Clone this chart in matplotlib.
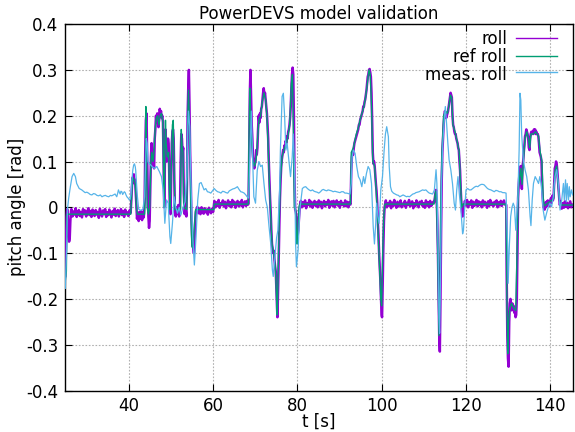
import numpy as np
import matplotlib
matplotlib.use("Agg")
import matplotlib.pyplot as plt
from matplotlib.lines import Line2D

plt.rcParams["path.simplify"] = False

# ---------------- data ----------------
x_ticks = [40, 60, 80, 100, 120, 140]
x_tick_labels = ["40", "60", "80", "100", "120", "140"]
y_ticks = [-0.4, -0.3, -0.2, -0.1, 0.0, 0.1, 0.2, 0.3, 0.4]
y_tick_labels = ["-0.4", "-0.3", "-0.2", "-0.1", "0", "0.1", "0.2", "0.3", "0.4"]
series_names = ["roll", "ref roll", "meas. roll"]

# roll (purple): transient segments with explicit times, noisy flat parts sampled every 0.25 s
roll_start_t = [25.0, 25.1, 25.2, 25.3, 25.45, 25.6, 25.75, 25.9, 26.05, 26.2, 26.35]
roll_start_v = [-0.15, -0.12, -0.06, -0.02, -0.004, -0.018, -0.06, -0.075, -0.068, -0.03, -0.008]

roll_flat_A_t0 = 26.45
roll_flat_A = [-0.004, -0.020, -0.009, -0.016, -0.002, -0.021, -0.011, -0.006, -0.019, -0.010,
               -0.022, -0.004, -0.015, -0.007, -0.020, -0.012, -0.002, -0.017, -0.008, -0.021,
               -0.005, -0.014, -0.019, -0.006, -0.016, -0.010, -0.023, -0.003, -0.012, -0.020,
               -0.007, -0.015, -0.004, -0.021, -0.011, -0.017, -0.005, -0.014, -0.022, -0.008,
               -0.016, -0.003, -0.019, -0.010, -0.006, -0.020, -0.012, -0.004, -0.017, -0.008,
               -0.021, -0.005, -0.015, -0.011, -0.019, -0.007, -0.013]

roll_ev1_t = [40.5, 40.65, 40.8, 40.95, 41.1, 41.25, 41.4, 41.55, 41.7, 41.85, 42.0, 42.2, 42.4,
              42.6, 42.8, 43.0, 43.2, 43.4, 43.6, 43.8, 43.95, 44.1, 44.25, 44.4, 44.55, 44.7,
              44.85, 45.0, 45.15, 45.3, 45.45, 45.6, 45.75, 45.9, 46.05, 46.2, 46.35, 46.5, 46.65,
              46.8, 46.95, 47.1, 47.25, 47.4, 47.55, 47.7, 47.85, 48.0, 48.15, 48.3, 48.45, 48.6,
              48.75, 48.9, 49.05, 49.2, 49.35, 49.5, 49.65, 49.8, 49.95, 50.1, 50.25, 50.4, 50.55,
              50.7, 50.85, 51.0, 51.2, 51.4, 51.6, 51.8, 52.0, 52.2, 52.35, 52.5, 52.65, 52.8,
              52.95, 53.1, 53.3, 53.5, 53.7, 53.85, 54.0, 54.15, 54.3, 54.45, 54.6, 54.75, 54.9,
              55.05, 55.2, 55.35, 55.5, 55.65, 55.8, 55.95, 56.1]
roll_ev1_v = [-0.010, 0.015, 0.045, 0.065, 0.058, 0.072, 0.052, 0.06, 0.03, 0.005, -0.025, -0.012,
              -0.03, -0.01, -0.025, -0.008, -0.028, -0.012, -0.022, 0.01, 0.12, 0.19, 0.205, 0.12,
              0.03, -0.02, -0.045, -0.03, 0.04, 0.11, 0.14, 0.12, 0.09, 0.1, 0.085, 0.15, 0.17,
              0.2, 0.185, 0.205, 0.19, 0.175, 0.2, 0.215, 0.205, 0.21, 0.195, 0.2, 0.185, 0.1,
              0.0, 0.09, 0.17, 0.14, 0.1, 0.13, 0.15, 0.14, 0.07, -0.01, -0.015, 0.06, 0.14,
              0.165, 0.17, 0.15, 0.06, -0.01, -0.02, 0.0, -0.015, 0.005, -0.02, 0.0, 0.1, 0.16,
              0.15, 0.12, 0.13, 0.03, -0.015, 0.0, -0.02, 0.05, 0.2, 0.26, 0.3, 0.22, 0.12, 0.06,
              -0.02, -0.06, -0.085, -0.09, -0.1, -0.07, -0.03, -0.01, -0.004]

roll_flat_B1_t0 = 56.3
roll_flat_B1 = [0.001, -0.013, -0.003, -0.015, 0.000, -0.010, -0.014, -0.002, -0.011, -0.005,
                -0.016, -0.001, -0.008, -0.013, -0.003, -0.010]
roll_flat_B2_t0 = 60.35
roll_flat_B2 = [0.014, 0.000, 0.011, 0.003, 0.016, -0.001, 0.009, 0.005, 0.015, 0.002, 0.012,
                -0.002, 0.008, 0.015, 0.003, 0.011, 0.000, 0.016, 0.005, 0.012, -0.001, 0.009,
                0.014, 0.002, 0.011, 0.004, 0.016, 0.000, 0.008, 0.013, 0.003, 0.014, 0.006]

roll_ev2_t = [68.45, 68.6, 68.75, 68.9, 69.05, 69.2, 69.35, 69.5, 69.65, 69.8, 69.95, 70.1, 70.25,
              70.4, 70.55, 70.7, 70.85, 71.0, 71.15, 71.3, 71.45, 71.6, 71.75, 71.9, 72.05, 72.2,
              72.35, 72.5, 72.65, 72.8, 72.95, 73.1, 73.25, 73.4, 73.55, 73.7, 73.85, 74.0, 74.15,
              74.3, 74.45, 74.6, 74.75, 74.9, 75.05, 75.2, 75.3, 75.45, 75.6, 75.75, 75.9, 76.05,
              76.2, 76.35, 76.5, 76.65, 76.8, 76.95, 77.1, 77.25, 77.4, 77.55, 77.7, 77.85, 78.0,
              78.15, 78.3, 78.45, 78.6, 78.75, 78.9, 79.05, 79.2, 79.35, 79.5, 79.65, 79.8, 79.95,
              80.1, 80.25, 80.4, 80.55, 80.7]
roll_ev2_v = [0.01, 0.12, 0.25, 0.3, 0.24, 0.18, 0.15, 0.11, 0.1, 0.085, 0.095, 0.1, 0.125, 0.115,
              0.13, 0.17, 0.2, 0.185, 0.205, 0.195, 0.215, 0.22, 0.235, 0.25, 0.26, 0.245, 0.25,
              0.235, 0.22, 0.205, 0.18, 0.15, 0.1, 0.06, 0.02, -0.01, -0.05, -0.08, -0.09, -0.1,
              -0.095, -0.115, -0.13, -0.14, -0.18, -0.22, -0.24, -0.18, -0.11, -0.04, 0.02, 0.06,
              0.09, 0.105, 0.115, 0.125, 0.12, 0.135, 0.13, 0.145, 0.14, 0.155, 0.15, 0.165, 0.17,
              0.18, 0.195, 0.22, 0.26, 0.29, 0.305, 0.29, 0.2, 0.06, -0.005, -0.01, -0.02, -0.045,
              -0.06, -0.05, -0.025, -0.005, 0.008]

roll_flat_C_t0 = 80.85
roll_flat_C = [0.014, 0.000, 0.011, 0.003, 0.015, -0.002, 0.009, 0.005, 0.016, 0.002, 0.012, -0.001,
               0.008, 0.014, 0.003, 0.011, 0.000, 0.015, 0.004, 0.012, -0.002, 0.009, 0.014, 0.002,
               0.011, 0.006, 0.016, -0.001, 0.008, 0.013, 0.003, 0.014, 0.000, 0.009, 0.015, 0.004,
               0.011, -0.001, 0.014, 0.006, 0.009, 0.002, 0.015, 0.003, 0.012, 0.000, 0.011, 0.006]

roll_ev3_t = [92.65, 92.8, 92.95, 93.1, 93.25, 93.4, 93.55, 93.7, 93.85, 94.0, 94.15, 94.3, 94.45,
              94.6, 94.75, 94.9, 95.05, 95.2, 95.35, 95.5, 95.65, 95.8, 95.95, 96.1, 96.25, 96.4,
              96.55, 96.7, 96.85, 97.0, 97.15, 97.3, 97.45, 97.6, 97.75, 97.9, 98.05, 98.2, 98.35,
              98.5, 98.65, 98.8, 98.95, 99.1, 99.25, 99.4, 99.55, 99.7, 99.85, 100.0, 100.1,
              100.25, 100.4, 100.55, 100.7, 100.85]
roll_ev3_v = [0.01, 0.08, 0.11, 0.12, 0.115, 0.13, 0.14, 0.145, 0.15, 0.155, 0.16, 0.165, 0.17,
              0.18, 0.18, 0.19, 0.195, 0.2, 0.205, 0.21, 0.22, 0.22, 0.23, 0.235, 0.245, 0.255,
              0.27, 0.285, 0.29, 0.3, 0.302, 0.295, 0.285, 0.25, 0.19, 0.12, 0.095, 0.1, 0.09,
              0.07, 0.05, 0.035, 0.01, -0.03, -0.06, -0.1, -0.13, -0.16, -0.2, -0.235, -0.24,
              -0.17, -0.09, -0.03, 0.0, 0.008]

roll_flat_D_t0 = 101.0
roll_flat_D = [0.015, 0.000, 0.009, 0.004, 0.014, -0.002, 0.010, 0.003, 0.016, 0.006, -0.001, 0.012,
               0.002, 0.009, 0.015, 0.000, 0.008, 0.004, 0.014, -0.001, 0.010, 0.005, 0.016, 0.002,
               0.008, 0.013, -0.002, 0.009, 0.003, 0.015, 0.006, 0.000, 0.012, 0.007, 0.014, 0.002,
               0.009, -0.001, 0.015, 0.004, 0.011, 0.000, 0.014, 0.003, 0.008, 0.012]

roll_ev4_t = [112.45, 112.6, 112.75, 112.9, 113.05, 113.2, 113.35, 113.5, 113.65, 113.8, 113.95,
              114.1, 114.25, 114.4, 114.55, 114.7, 114.85, 115.0, 115.15, 115.3, 115.45, 115.6,
              115.75, 115.9, 116.05, 116.2, 116.35, 116.5, 116.65, 116.8, 116.95, 117.1, 117.25,
              117.4, 117.55, 117.7, 117.85, 118.0, 118.15, 118.3, 118.45, 118.6, 118.75, 118.9,
              119.05, 119.2, 119.35]
roll_ev4_v = [0.01, 0.02, 0.03, 0.038, 0.02, -0.03, -0.1, -0.19, -0.28, -0.315, -0.2, -0.05, 0.06,
              0.12, 0.15, 0.18, 0.2, 0.21, 0.205, 0.195, 0.2, 0.205, 0.21, 0.22, 0.23, 0.24, 0.25,
              0.245, 0.24, 0.2, 0.18, 0.175, 0.165, 0.16, 0.16, 0.15, 0.145, 0.14, 0.13, 0.125,
              0.1, 0.08, 0.04, 0.01, -0.01, -0.02, 0.005]

roll_flat_E_t0 = 119.5
roll_flat_E = [0.002, 0.014, 0.004, 0.016, 0.000, 0.011, 0.006, 0.015, -0.001, 0.012, 0.003, 0.009,
               0.016, 0.002, 0.013, 0.005, 0.011, 0.000, 0.015, 0.004, 0.012, 0.008, -0.001, 0.013,
               0.003, 0.016, 0.005, 0.010, 0.002, 0.012, 0.006, 0.015, 0.000, 0.011, 0.004, 0.014,
               0.003, 0.009, 0.015, 0.006]

roll_ev5_t = [129.55, 129.65, 129.8, 129.95, 130.1, 130.25, 130.4, 130.55, 130.7, 130.85, 131.0,
              131.15, 131.3, 131.45, 131.6, 131.75, 131.9, 132.05, 132.2, 132.35, 132.5, 132.65,
              132.8, 132.95, 133.1, 133.25, 133.4, 133.55, 133.7, 133.85, 134.0, 134.15, 134.3,
              134.45, 134.6, 134.75, 134.9, 135.05, 135.2, 135.35, 135.5, 135.65, 135.8, 135.95,
              136.1, 136.25, 136.4, 136.55, 136.7, 136.85, 137.0, 137.15, 137.3, 137.45, 137.6,
              137.75, 137.9, 138.05, 138.2, 138.35, 138.5, 138.65, 138.8, 138.95, 139.1, 139.25,
              139.4, 139.55, 139.7, 139.85, 140.0, 140.15, 140.3, 140.45, 140.6, 140.75, 140.9,
              141.05, 141.2, 141.35, 141.5, 141.65, 141.8, 141.95, 142.1, 142.25]
roll_ev5_v = [0.005, -0.15, -0.28, -0.33, -0.348, -0.25, -0.21, -0.2, -0.215, -0.225, -0.21, -0.22,
              -0.215, -0.23, -0.225, -0.24, -0.235, -0.2, -0.1, 0.02, 0.05, 0.07, 0.085, 0.09, 0.06,
              0.04, 0.09, 0.1, 0.12, 0.135, 0.155, 0.16, 0.17, 0.165, 0.16, 0.15, 0.13, 0.125,
              0.15, 0.16, 0.165, 0.16, 0.165, 0.16, 0.17, 0.165, 0.17, 0.16, 0.165, 0.16, 0.16,
              0.155, 0.14, 0.12, 0.115, 0.11, 0.1, 0.05, 0.02, 0.0, 0.005, -0.005, 0.01, 0.0,
              0.012, 0.003, 0.015, 0.005, 0.012, 0.003, 0.015, 0.02, 0.01, 0.025, 0.015, 0.02,
              0.05, 0.085, 0.09, 0.1, 0.095, 0.08, 0.06, 0.04, 0.02, 0.005]

roll_flat_F_t0 = 142.45
roll_flat_F = [0.012, -0.003, 0.009, -0.001, 0.013, 0.001, 0.010, -0.002, 0.007, 0.013, 0.000, 0.006]

roll_sample_step = 0.25

# ref roll (green)
ref_t = [25.0, 25.25, 25.4, 40.5, 40.8, 41.0, 41.3, 41.6, 41.9, 42.1, 43.8, 44.0, 44.1, 44.25,
         44.4, 44.7, 45.0, 45.3, 45.5, 45.8, 46.0, 46.3, 46.6, 46.9, 47.2, 47.5, 47.8, 48.1, 48.3,
         48.45, 48.6, 48.75, 48.9, 49.2, 49.5, 49.7, 49.85, 50.1, 50.4, 50.6, 50.8, 51.0, 52.3,
         52.5, 52.7, 52.9, 53.1, 53.8, 54.0, 54.2, 54.4, 54.6, 54.8, 55.0, 55.3, 55.6, 55.9, 60.2,
         60.3, 68.4, 68.55, 68.75, 68.95, 69.2, 69.5, 69.9, 70.3, 70.6, 70.9, 71.3, 71.7, 72.1,
         72.5, 72.8, 73.1, 73.4, 73.7, 74.0, 74.4, 74.8, 75.1, 75.25, 75.45, 75.7, 76.0, 76.4,
         76.8, 77.6, 78.2, 78.6, 78.85, 79.1, 79.3, 79.6, 79.9, 80.1, 80.4, 80.6, 92.6, 92.8,
         93.3, 94.0, 94.5, 95.0, 95.5, 95.8, 96.2, 96.6, 97.0, 97.3, 97.6, 97.9, 98.3, 98.7,
         99.1, 99.5, 99.8, 100.0, 100.2, 100.5, 100.8, 112.4, 112.8, 113.0, 113.3, 113.6, 113.8,
         114.0, 114.3, 114.7, 115.1, 115.6, 116.0, 116.3, 116.6, 116.9, 117.4, 118.0, 118.4,
         118.7, 119.0, 119.3, 129.5, 129.7, 129.9, 130.1, 130.4, 130.8, 131.3, 131.8, 132.1,
         132.4, 133.0, 133.3, 133.6, 134.0, 134.4, 134.8, 135.1, 135.4, 136.0, 136.5, 137.2,
         137.6, 138.0, 138.3, 138.6, 139.5, 140.3, 140.8, 141.1, 141.5, 141.9, 142.3, 145.3]
ref_v = [-0.16, -0.14, -0.015, -0.015, 0.04, 0.065, 0.06, 0.05, -0.005, -0.015, -0.015, 0.1,
         0.22, 0.12, 0.0, -0.015, 0.0, 0.1, 0.12, 0.1, 0.12, 0.17, 0.195, 0.2, 0.18, 0.2, 0.205,
         0.19, 0.08, 0.0, 0.12, 0.19, 0.14, 0.11, 0.12, 0.03, -0.005, 0.08, 0.18, 0.19, 0.08,
         -0.005, -0.005, 0.17, 0.13, 0.12, 0.0, -0.005, 0.18, 0.256, 0.2, 0.1, -0.02, -0.085,
         -0.09, -0.04, -0.005, -0.005, 0.007, 0.007, 0.15, 0.26, 0.2, 0.14, 0.1, 0.09, 0.11, 0.15,
         0.19, 0.2, 0.23, 0.25, 0.235, 0.2, 0.13, 0.05, -0.02, -0.08, -0.1, -0.13, -0.2, -0.235,
         -0.15, -0.04, 0.06, 0.11, 0.125, 0.145, 0.18, 0.27, 0.29, 0.15, 0.0, -0.005, -0.08,
         -0.06, 0.0, 0.007, 0.007, 0.12, 0.13, 0.16, 0.175, 0.195, 0.21, 0.22, 0.24, 0.27, 0.3,
         0.29, 0.22, 0.1, 0.09, 0.04, -0.04, -0.13, -0.2, -0.215, -0.12, -0.02, 0.007, 0.007,
         0.035, 0.02, -0.1, -0.28, -0.2, 0.0, 0.12, 0.2, 0.21, 0.205, 0.225, 0.245, 0.24, 0.18,
         0.165, 0.14, 0.12, 0.05, 0.0, 0.007, 0.007, -0.2, -0.32, -0.25, -0.22, -0.21, -0.22,
         -0.225, -0.1, 0.04, 0.085, 0.05, 0.1, 0.15, 0.165, 0.15, 0.13, 0.16, 0.16, 0.165, 0.155,
         0.12, 0.1, 0.02, 0.003, 0.01, 0.015, 0.02, 0.08, 0.09, 0.04, 0.005, 0.005]

# meas. roll (light blue)
meas_t = [25.0, 25.3, 25.5, 25.8, 26.2, 26.6, 27.0, 27.4, 27.7, 28.3, 28.9, 29.3, 29.7, 30.1,
          30.5, 30.9, 31.3, 31.7, 32.1, 32.5, 32.9, 33.3, 33.7, 34.1, 34.5, 34.9, 35.3, 35.7,
          36.0, 36.4, 36.8, 37.0, 37.2, 37.4, 37.6, 37.8, 38.0, 38.2, 38.4, 38.6, 38.8, 39.0,
          39.2, 39.4, 39.6, 39.9, 40.2, 40.4, 40.6, 40.8, 41.0, 41.2, 41.4, 41.6, 41.7, 41.9,
          42.1, 42.4, 42.9, 43.4, 43.8, 44.0, 44.2, 44.4, 44.6, 44.9, 45.3, 45.7, 46.1, 46.7,
          47.3, 47.8, 48.2, 48.6, 49.0, 49.4, 49.8, 50.0, 50.4, 50.8, 51.2, 51.6, 52.0, 52.4,
          52.9, 53.4, 53.8, 54.0, 54.2, 54.5, 54.8, 55.2, 55.6, 56.0, 56.4, 56.8, 57.2, 57.6,
          57.9, 58.3, 58.7, 59.1, 59.5, 59.9, 60.3, 60.7, 61.1, 61.5, 61.9, 62.3, 62.7, 63.1,
          63.5, 63.9, 64.3, 64.7, 65.1, 65.5, 65.8, 66.2, 66.6, 67.0, 67.4, 67.8, 68.1, 68.5,
          68.8, 69.1, 69.4, 69.7, 70.1, 70.5, 70.9, 71.3, 71.7, 72.1, 72.5, 72.9, 73.3, 73.7,
          74.1, 74.3, 74.7, 75.1, 75.4, 75.8, 76.0, 76.4, 76.7, 77.0, 77.3, 77.6, 78.0, 78.4,
          78.8, 79.05, 79.4, 79.6, 79.8, 80.2, 80.6, 81.2, 81.6, 82.0, 82.4, 82.8, 83.2, 83.6,
          84.0, 84.3, 84.7, 85.1, 85.5, 85.9, 86.2, 86.6, 87.0, 87.3, 87.7, 88.1, 88.5, 88.9,
          89.3, 89.7, 90.1, 90.5, 90.9, 91.3, 91.7, 92.1, 92.5, 92.8, 93.0, 93.3, 93.7, 94.1,
          94.5, 94.9, 95.3, 95.7, 96.0, 96.4, 96.8, 97.2, 97.6, 98.0, 98.3, 98.6, 98.8, 99.1,
          99.4, 99.6, 99.8, 100.2, 100.6, 100.9, 101.2, 101.6, 101.8, 102.1, 102.4, 102.8, 103.2,
          103.6, 104.0, 104.3, 104.7, 105.1, 105.5, 105.9, 106.2, 106.6, 107.0, 107.4, 107.8,
          108.1, 108.5, 108.9, 109.3, 109.7, 110.1, 110.5, 110.9, 111.3, 111.7, 112.1, 112.5,
          112.7, 112.9, 113.1, 113.4, 113.6, 113.75, 114.0, 114.2, 114.5, 114.9, 115.1, 115.4,
          115.7, 116.0, 116.4, 116.8, 117.2, 117.5, 117.8, 118.1, 118.4, 118.8, 119.2, 119.4,
          119.7, 120.0, 120.4, 120.8, 121.2, 121.6, 122.0, 122.4, 122.8, 123.2, 123.6, 124.0,
          124.3, 124.7, 125.1, 125.5, 125.9, 126.3, 126.7, 127.1, 127.5, 127.9, 128.3, 128.7,
          129.1, 129.5, 129.6, 129.9, 130.0, 130.3, 130.6, 130.9, 131.2, 131.5, 131.8, 132.0,
          132.3, 132.6, 132.8, 133.0, 133.2, 133.6, 134.0, 134.4, 134.8, 135.2, 135.4, 135.7,
          136.0, 136.4, 136.8, 137.2, 137.5, 137.8, 138.0, 138.3, 138.7, 139.1, 139.5, 139.9,
          140.3, 140.7, 141.1, 141.5, 141.9, 142.3, 142.7, 143.1, 143.3, 143.6, 143.8, 144.0,
          144.3, 144.5, 144.7, 145.0, 145.3]
meas_v = [-0.177, -0.093, -0.006, 0.02, 0.045, 0.067, 0.074, 0.067, 0.052, 0.041, 0.038, 0.035,
          0.032, 0.033, 0.031, 0.028, 0.027, 0.030, 0.029, 0.026, 0.025, 0.027, 0.023, 0.025,
          0.026, 0.024, 0.023, 0.026, 0.025, 0.027, 0.029, 0.026, 0.023, 0.03, 0.038, 0.033,
          0.029, 0.035, 0.034, 0.028, 0.031, 0.034, 0.032, 0.027, 0.023, 0.02, 0.016, 0.018,
          0.03, 0.06, 0.081, 0.092, 0.095, 0.088, 0.08, 0.05, 0.023, -0.004, -0.007, -0.004,
          0.023, 0.08, 0.15, 0.14, 0.1, 0.095, 0.092, 0.088, 0.085, 0.089, 0.078, 0.067, 0.038,
          -0.035, 0.016, 0.009, -0.064, -0.079, -0.035, 0.023, 0.0, -0.013, 0.0, -0.017, 0.0,
          0.012, 0.067, 0.16, 0.21, 0.176, 0.052, -0.064, -0.126, -0.064, 0.016, 0.052, 0.054,
          0.045, 0.038, 0.041, 0.034, 0.033, 0.031, 0.036, 0.041, 0.037, 0.034, 0.033, 0.031,
          0.035, 0.034, 0.032, 0.031, 0.036, 0.038, 0.04, 0.041, 0.043, 0.045, 0.039, 0.034,
          0.033, 0.031, 0.027, 0.023, 0.02, 0.125, 0.21, 0.11, 0.023, 0.009, 0.08, 0.1, 0.089,
          0.092, 0.052, 0.016, 0.0, -0.042, -0.079, -0.137, -0.151, -0.108, -0.066, -0.05, 0.038,
          0.125, 0.242, 0.249, 0.198, 0.125, 0.14, 0.103, 0.067, 0.11, 0.16, 0.067, -0.08, -0.13,
          -0.093, -0.006, 0.041, 0.044, 0.045, 0.041, 0.038, 0.036, 0.038, 0.035, 0.034, 0.033,
          0.031, 0.034, 0.038, 0.039, 0.037, 0.036, 0.038, 0.037, 0.036, 0.034, 0.035, 0.034,
          0.033, 0.032, 0.034, 0.034, 0.031, 0.031, 0.030, 0.029, 0.052, 0.11, 0.125, 0.118,
          0.089, 0.067, 0.06, 0.045, 0.067, 0.052, 0.074, 0.089, 0.082, 0.052, -0.042, -0.08,
          -0.035, 0.009, -0.02, -0.035, 0.0, 0.038, 0.067, 0.125, 0.16, 0.176, 0.154, 0.089,
          0.045, 0.035, 0.031, 0.029, 0.027, 0.026, 0.023, 0.025, 0.027, 0.025, 0.023, 0.024,
          0.023, 0.026, 0.029, 0.03, 0.032, 0.033, 0.034, 0.036, 0.038, 0.037, 0.038, 0.034,
          0.031, 0.03, 0.029, 0.038, 0.06, 0.082, 0.052, -0.093, -0.24, -0.275, -0.13, 0.052,
          0.14, 0.198, 0.22, 0.183, 0.14, 0.103, 0.082, 0.052, 0.009, -0.006, 0.038, 0.067,
          0.031, -0.006, -0.058, -0.05, 0.0, 0.038, 0.041, 0.038, 0.038, 0.041, 0.044, 0.046,
          0.045, 0.048, 0.05, 0.05, 0.049, 0.045, 0.041, 0.039, 0.038, 0.036, 0.034, 0.037,
          0.036, 0.034, 0.034, 0.032, 0.032, 0.031, 0.0, -0.093, -0.166, -0.08, -0.02, 0.0,
          0.009, 0.001, -0.05, -0.02, 0.023, 0.125, 0.249, 0.234, 0.16, 0.103, 0.082, 0.067,
          0.038, -0.02, -0.04, 0.016, 0.052, 0.067, 0.06, 0.052, 0.067, 0.052, 0.031, -0.006,
          -0.028, -0.013, 0.0, 0.009, 0.001, 0.023, 0.067, 0.082, 0.052, -0.006, 0.016, 0.052,
          0.016, 0.06, 0.012, 0.052, 0.016, 0.045, 0.023, 0.038, 0.027]

# ---------------- assemble the roll series ----------------
roll_parts = [
    (roll_start_t, roll_start_v),
    (roll_flat_A_t0, roll_flat_A),
    (roll_ev1_t, roll_ev1_v),
    (roll_flat_B1_t0, roll_flat_B1),
    (roll_flat_B2_t0, roll_flat_B2),
    (roll_ev2_t, roll_ev2_v),
    (roll_flat_C_t0, roll_flat_C),
    (roll_ev3_t, roll_ev3_v),
    (roll_flat_D_t0, roll_flat_D),
    (roll_ev4_t, roll_ev4_v),
    (roll_flat_E_t0, roll_flat_E),
    (roll_ev5_t, roll_ev5_v),
    (roll_flat_F_t0, roll_flat_F),
]
rt, rv = [], []
for tt, vv in roll_parts:
    if np.isscalar(tt):
        tt = tt + roll_sample_step * np.arange(len(vv))
    rt.append(np.asarray(tt, dtype=float))
    rv.append(np.asarray(vv, dtype=float))
roll_t = np.concatenate(rt)
roll_v = np.concatenate(rv)

# ---------------- figure ----------------
W, H = 575, 432
fig = plt.figure(figsize=(W / 100, H / 100), dpi=100)
ax = fig.add_axes([65.3 / W, 1 - 390.5 / H, (572.7 - 65.3) / W, (390.5 - 24.1) / H])

c_roll, c_ref, c_meas = "#9400D3", "#009E73", "#56B4E9"
ax.plot(roll_t, roll_v, color=c_roll, lw=1.8, zorder=3)
ax.plot(ref_t, ref_v, color=c_ref, lw=1.0, zorder=4)
ax.plot(meas_t, meas_v, color=c_meas, lw=0.9, zorder=5)

ax.set_xlim(25, 145.3)
ax.set_ylim(-0.4, 0.4)
ax.set_xticks(x_ticks)
ax.set_xticklabels(x_tick_labels)
ax.set_yticks(y_ticks)
ax.set_yticklabels(y_tick_labels)
ax.tick_params(direction="in", top=True, right=True, length=5, width=0.8,
               labelsize=12, pad=5)
ax.grid(True, color="#b0b0b0", linestyle=(0, (1.5, 1.5)), linewidth=0.8, zorder=0)
for s in ax.spines.values():
    s.set_linewidth(1.0)

fig.text(319 / W, 1 - 14 / H, "PowerDEVS model validation", ha="center", va="center", fontsize=12)
fig.text(319 / W, 1 - 422 / H, "t [s]", ha="center", va="center", fontsize=12)
fig.text(17 / W, 1 - 207 / H, "pitch angle [rad]", ha="center", va="center",
         rotation=90, fontsize=12)

# legend (gnuplot style: right-aligned text, sample to the right)
leg_text_y = [39, 57, 75]
leg_line_y = [38.3, 56.2, 72.0]
for name, col, ty, ly in zip(series_names, [c_roll, c_ref, c_meas], leg_text_y, leg_line_y):
    fig.text(507 / W, 1 - ty / H, name, ha="right", va="center", fontsize=12)
    fig.add_artist(Line2D([516 / W, 557 / W], [1 - ly / H, 1 - ly / H], color=col, lw=1.0,
                          transform=fig.transFigure))

fig.savefig("out.png", dpi=100)
